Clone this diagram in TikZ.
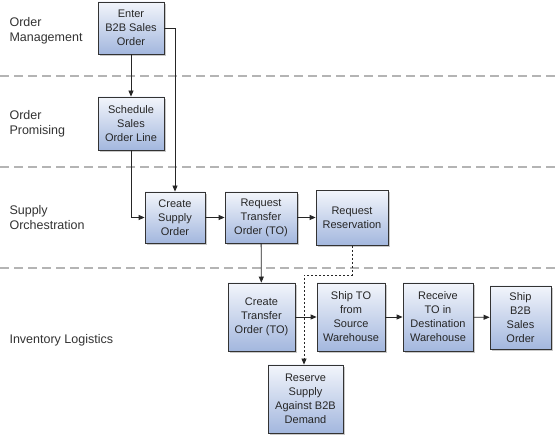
\documentclass[tikz,border=0pt]{standalone}
\usepackage{fontspec}
\setmainfont{Liberation Sans}
\usetikzlibrary{arrows.meta,shadows}
\definecolor{boxtop}{HTML}{F2F5FB}
\definecolor{boxbot}{HTML}{A3B7DE}
\definecolor{lanegray}{HTML}{B4B4B4}
\begin{document}
\begin{tikzpicture}[x=1pt,y=-1pt,
  procbox/.style={draw=black!80, line width=0.8pt, top color=boxtop, bottom color=boxbot,
    drop shadow={shadow xshift=2pt, shadow yshift=-2pt, fill=black!35, opacity=0.6},
    align=center, inner sep=1pt, font=\fontsize{11}{14}\selectfont, text=black!85},
  lanelabel/.style={anchor=west, align=left, font=\fontsize{12.5}{15.5}\selectfont, text=black!80},
  laneline/.style={draw=lanegray, line width=1.2pt, dash pattern=on 9pt off 5pt},
  flow/.style={draw=black!85, line width=0.8pt, -{Triangle[length=6pt,width=5pt]}},
  dflow/.style={draw=black!85, line width=0.8pt, dash pattern=on 2.5pt off 1.5pt, -{Triangle[length=6pt,width=5pt]}}
]
\useasboundingbox (0,0) rectangle (558,438);
\fill[white] (0,0) rectangle (558,438);

% lane separators
\coordinate (l1a) at (0,76);  \coordinate (l1b) at (558,76);
\coordinate (l2a) at (0,167); \coordinate (l2b) at (558,167);
\coordinate (l3a) at (0,268); \coordinate (l3b) at (558,268);
\draw[laneline] (l1a) -- (l1b);
\draw[laneline] (l2a) -- (l2b);
\draw[laneline] (l3a) -- (l3b);

% lane labels
\node[lanelabel] (lom) at (6,31) {Order\\Management};
\node[lanelabel] (lop) at (6,124) {Order\\Promising};
\node[lanelabel] (lso) at (6,217.5) {Supply\\Orchestration};
\node[lanelabel] (lil) at (6,340) {Inventory Logistics};

% boxes
\node[procbox, minimum width=66pt, minimum height=52pt] (enter) at (131,28) {Enter\\B2B Sales\\Order};
\node[procbox, minimum width=66pt, minimum height=53pt] (sched) at (131,123.5) {Schedule\\Sales\\Order Line};
\node[procbox, minimum width=60pt, minimum height=51pt] (cso) at (175,217.5) {Create\\Supply\\Order};
\node[procbox, minimum width=72pt, minimum height=51pt] (rto) at (261,217.5) {Request\\Transfer\\Order (TO)};
\node[procbox, minimum width=72pt, minimum height=55pt] (rr) at (352,218) {Request\\Reservation};
\node[procbox, minimum width=67pt, minimum height=68pt] (cto) at (261.5,317) {Create\\Transfer\\Order (TO)};
\node[procbox, minimum width=68pt, minimum height=68pt] (ship) at (351,317) {Ship TO\\from\\Source\\Warehouse};
\node[procbox, minimum width=70pt, minimum height=68pt] (recv) at (438,317) {Receive\\TO in\\Destination\\Warehouse};
\node[procbox, minimum width=61pt, minimum height=63pt] (shipb) at (520.5,317.5) {Ship\\B2B\\Sales\\Order};
\node[procbox, minimum width=75pt, minimum height=68pt] (resv) at (305.5,399) {Reserve\\Supply\\Against B2B\\Demand};

% connectors
\draw[flow] (enter) -- (sched);
\draw[flow] (sched.south) |- (cso.west);
\draw[flow] (enter.east) -| (cso.north);
\draw[flow] (cso) -- (rto);
\draw[flow] (rto.east) -- (rr.west |- rto.east);
\draw[flow] (rto) -- (cto);
\draw[flow] (cto) -- (ship);
\draw[flow] (ship) -- (recv);
\draw[flow] (recv) -- (shipb);
\coordinate (dk1) at (352,275);
\coordinate (dk2) at (304,275);
\draw[dflow] (rr.south) -- (dk1) -- (dk2) -- (dk2 |- resv.north);
\end{tikzpicture}
\end{document}
